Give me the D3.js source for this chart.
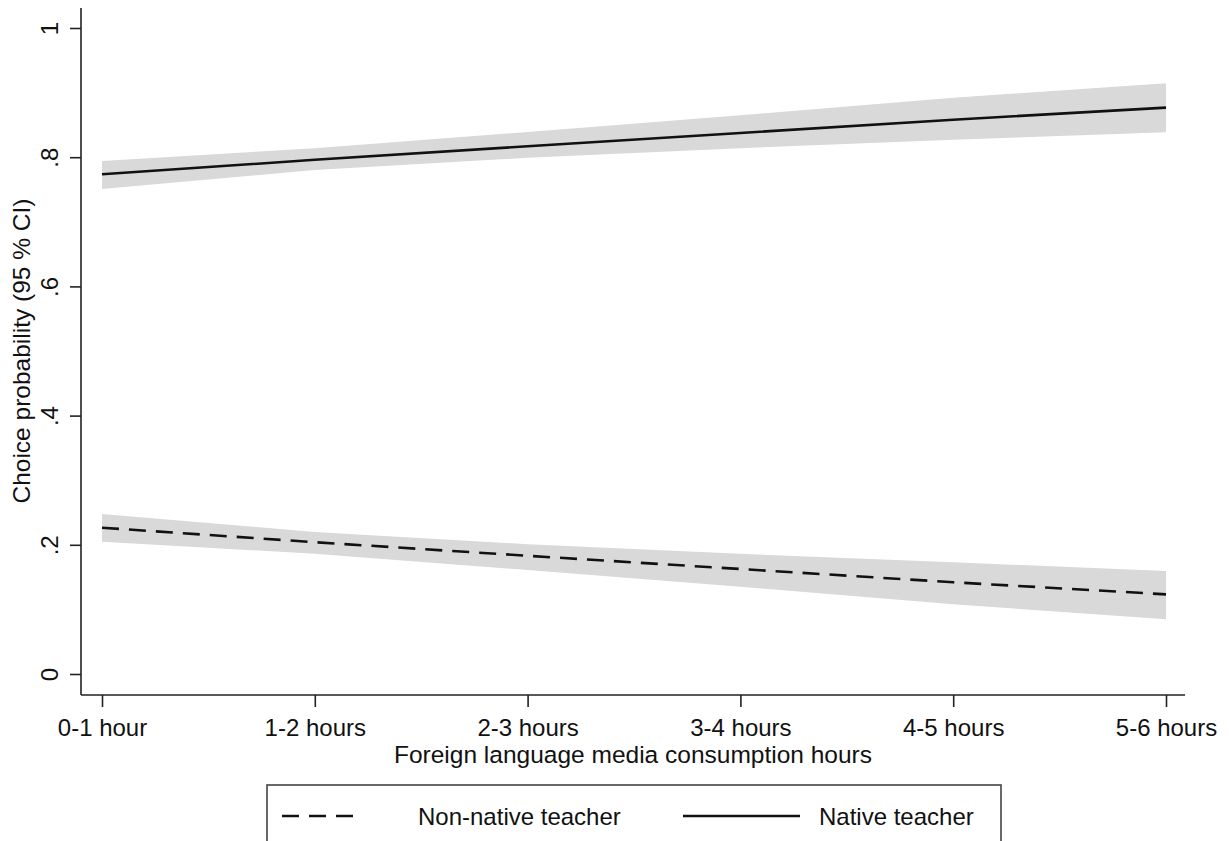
<!DOCTYPE html>
<html>
<head>
<meta charset="utf-8">
<script src="https://cdn.jsdelivr.net/npm/d3@7"></script>
<style>
  body { margin: 0; background: #fff; }
  svg text { font-family: Arial, "Liberation Sans", sans-serif; fill: #111; }
</style>
</head>
<body>
<div id="d3-container"></div>
<script>
/**
 * DATA
 * */
const categories = ["0-1 hour", "1-2 hours", "2-3 hours", "3-4 hours", "4-5 hours", "5-6 hours"];
const yTicks = [0, 0.2, 0.4, 0.6, 0.8, 1];
const yTickLabels = ["0", ".2", ".4", ".6", ".8", "1"];

// native teacher
const nativeMid = [0.7735, 0.7960, 0.8170, 0.8375, 0.8580, 0.8767];
const nativeLo  = [0.7508, 0.7800, 0.7990, 0.8140, 0.8270, 0.8385];
const nativeHi  = [0.7941, 0.8140, 0.8390, 0.8650, 0.8920, 0.9144];

// non-native teacher
const nonNativeMid = [0.2265, 0.2040, 0.1830, 0.1625, 0.1420, 0.1233];
const nonNativeLo  = [0.2048, 0.1860, 0.1610, 0.1350, 0.1080, 0.0846];
const nonNativeHi  = [0.2477, 0.2200, 0.2010, 0.1860, 0.1730, 0.1594];

/**
 * CONSTANTS
 * */
const width = 1229, height = 841;
const margin = { left: 81, top: 8, right: 1185, bottom: 695 };
const fontSize = 24;

const svg = d3.select("#d3-container")
  .append("svg")
  .attr("width", width)
  .attr("height", height);

const x = d3.scalePoint()
  .domain(categories)
  .range([102, 1166]);

const y = d3.scaleLinear()
  .domain([0, 1])
  .range([674, 28]);

// CI bands
function drawBand(lo, hi) {
  const area = d3.area()
    .x((d, i) => x(categories[i]))
    .y0(d => y(d[0]))
    .y1(d => y(d[1]));
  svg.append("path")
    .datum(lo.map((v, i) => [v, hi[i]]))
    .attr("d", area)
    .attr("fill", "#d9d9d9");
}
drawBand(nativeLo, nativeHi);
drawBand(nonNativeLo, nonNativeHi);

// lines
const line = d3.line()
  .x((d, i) => x(categories[i]))
  .y(d => y(d));

svg.append("path")
  .datum(nonNativeMid)
  .attr("d", line)
  .attr("fill", "none")
  .attr("stroke", "#111")
  .attr("stroke-width", 2.6)
  .attr("stroke-dasharray", "17,10");

svg.append("path")
  .datum(nativeMid)
  .attr("d", line)
  .attr("fill", "none")
  .attr("stroke", "#111")
  .attr("stroke-width", 2.6);

// y axis
const yAxis = d3.axisLeft(y)
  .tickValues(yTicks)
  .tickFormat((d, i) => yTickLabels[i])
  .tickSize(11)
  .tickSizeOuter(0);

const gy = svg.append("g")
  .attr("transform", `translate(${margin.left},0)`)
  .call(yAxis);
gy.select(".domain").attr("d", `M0,${margin.top}V${margin.bottom}`);
gy.selectAll("line, path").attr("stroke", "#222").attr("stroke-width", 1.6);
gy.selectAll(".tick text")
  .attr("font-size", fontSize)
  .attr("transform", "rotate(-90)")
  .attr("text-anchor", "middle")
  .attr("x", 0)
  .attr("dy", 0)
  .attr("y", -23)
  .attr("fill", "#111");

// x axis
const xAxis = d3.axisBottom(x)
  .tickSize(12)
  .tickSizeOuter(0);

const gx = svg.append("g")
  .attr("transform", `translate(0,${margin.bottom})`)
  .call(xAxis);
gx.select(".domain").attr("d", `M${margin.left},0H${margin.right}`);
gx.selectAll("line, path").attr("stroke", "#222").attr("stroke-width", 1.6);
gx.selectAll("text")
  .attr("font-size", fontSize)
  .attr("y", 24)
  .attr("dy", "0.71em")
  .attr("fill", "#111");

// axis titles
svg.append("text")
  .attr("transform", `translate(30,${(28 + 674) / 2}) rotate(-90)`)
  .attr("text-anchor", "middle")
  .attr("font-size", 24.5)
  .text("Choice probability (95 % CI)");

svg.append("text")
  .attr("x", 633)
  .attr("y", 763)
  .attr("text-anchor", "middle")
  .attr("font-size", 24.5)
  .text("Foreign language media consumption hours");

// legend
const legend = svg.append("g");
legend.append("rect")
  .attr("x", 267).attr("y", 785)
  .attr("width", 734).attr("height", 80)
  .attr("fill", "#fff")
  .attr("stroke", "#444")
  .attr("stroke-width", 1.6);

const legendItems = [
  { label: "Non-native teacher", dash: "17,10", x1: 282, x2: 358, tx: 418 },
  { label: "Native teacher", dash: null, x1: 683, x2: 800, tx: 819 }
];
legendItems.forEach(d => {
  legend.append("line")
    .attr("x1", d.x1).attr("x2", d.x2)
    .attr("y1", 816).attr("y2", 816)
    .attr("stroke", "#111")
    .attr("stroke-width", 2.6)
    .attr("stroke-dasharray", d.dash);
  legend.append("text")
    .attr("x", d.tx).attr("y", 825)
    .attr("font-size", fontSize)
    .text(d.label);
});
</script>
</body>
</html>
